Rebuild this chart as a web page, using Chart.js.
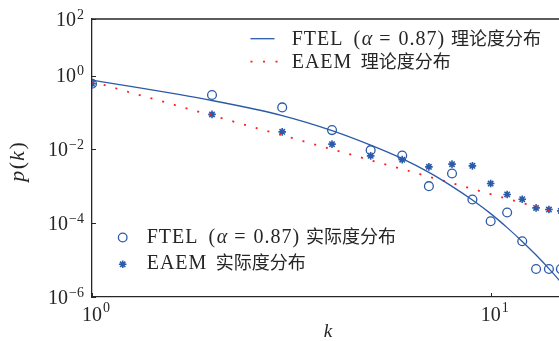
<!DOCTYPE html>
<html>
<head>
<meta charset="utf-8">
<script src="https://cdn.jsdelivr.net/npm/chart.js@4/dist/chart.umd.min.js"></script>
<style>
html,body{margin:0;padding:0;background:#fff;}
#wrap{width:559px;height:341px;position:relative;overflow:hidden;}
</style>
</head>
<body>
<div id="wrap"><canvas id="c" width="559" height="341"></canvas></div>
<script>
// ---------------- data ----------------
const degrees    = [1, 2, 3, 4, 5, 6, 7, 8, 9, 10, 11, 12, 13, 14, 15];
const ftelActual = [0.603, 0.298, 0.138, 0.0334, 0.00957, 0.00687, 0.00101, 0.00223, 4.40e-4, 1.13e-4, 1.95e-4, 3.25e-5, 5.75e-6, 5.75e-6, 5.75e-6];
const eaemActual = [0.603, 0.0891, 0.0300, 0.0139, 0.00670, 0.00529, 0.00337, 0.00399, 0.00359, 0.00119, 6.01e-4, 4.48e-4, 2.60e-4, 2.35e-4, 2.16e-4];
const ftelTheory = [0.760, 0.212, 0.0827, 0.0324, 0.0131, 0.00563, 0.00239, 0.00100, 4.26e-4, 1.82e-4, 7.60e-5, 3.21e-5, 1.37e-5, 5.86e-6, 2.54e-6];
const eaemTheory = [0.69, 0.0832, 0.0242, 0.0101, 0.00510, 0.00292, 0.00183, 0.00122, 8.50e-4, 6.17e-4, 4.61e-4, 3.54e-4, 2.77e-4, 2.21e-4, 1.79e-4];
const xTickValues = [1, 10];
const yTickValues = [1e-6, 1e-4, 1e-2, 1, 1e2];
const xRange = [1, 14.84];
const yRange = [1e-6, 1e2];
const modelNames = ['FTEL', 'EAEM'];
const alphaText = '0.87';
const theoryLabel = '理论度分布';
const actualLabel = '实际度分布';
const xTitle = 'k';
const yTitle = ['p', '(', 'k', ')'];

// ---------------- styles ----------------
const BLUE = '#2b5aa8';
const RED = '#ff1f1f';
const INK = '#262626';
const LATIN = '"Liberation Serif", "DejaVu Serif", serif';
const CJK = '"Noto Sans CJK SC", sans-serif';
const Y_KNOT_LOG = 0;           // decade where the drawn y axis changes density
const Y_KNOT_FRACTION = 0.7962; // share of axis height for the decades below the knot

// log axis whose decades above 10^0 are drawn denser (as in the reference)
class WarpedLogScale extends Chart.LogarithmicScale {
  static id = 'warpedLog';
  _dec(value) {
    const lg = Math.log10(value);
    const lo = Math.log10(this.min), hi = Math.log10(this.max);
    if (lg <= Y_KNOT_LOG) return (lg - lo) / (Y_KNOT_LOG - lo) * Y_KNOT_FRACTION;
    return Y_KNOT_FRACTION + (lg - Y_KNOT_LOG) / (hi - Y_KNOT_LOG) * (1 - Y_KNOT_FRACTION);
  }
  getPixelForValue(value) {
    if (value === undefined || value === 0) value = this.min;
    if (value === null || isNaN(value)) return NaN;
    return this.getPixelForDecimal(this._dec(value));
  }
  getValueForPixel(pixel) {
    const d = this.getDecimalForPixel(pixel);
    const lo = Math.log10(this.min), hi = Math.log10(this.max);
    let lg;
    if (d <= Y_KNOT_FRACTION) lg = lo + d / Y_KNOT_FRACTION * (Y_KNOT_LOG - lo);
    else lg = Y_KNOT_LOG + (d - Y_KNOT_FRACTION) / (1 - Y_KNOT_FRACTION) * (hi - Y_KNOT_LOG);
    return Math.pow(10, lg);
  }
}
Chart.register(WarpedLogScale);

const toXY = (vals) => degrees.map((k, i) => ({x: k, y: vals[i]}));

function expText(v) {
  const e = Math.round(Math.log10(v));
  return e < 0 ? '\u2212' + (-e) : String(e);
}

const HAS_LS = 'letterSpacing' in CanvasRenderingContext2D.prototype;

// draws text pieces one after another, each preceded by a gap
function drawRuns(ctx, runs, x, y) {
  for (const r of runs) {
    ctx.font = r.font;
    if (HAS_LS) ctx.letterSpacing = (r.ls || 0) + 'px';
    x += r.gap;
    ctx.fillText(r.text, x, y);
    x += ctx.measureText(r.text).width;
  }
  if (HAS_LS) ctx.letterSpacing = '0px';
}

function labelRuns(name, cjk, withAlpha) {
  const f = '20px ' + LATIN, fi = 'italic 20px ' + LATIN, fc = '18px ' + CJK;
  if (withAlpha) {
    return [
      {text: name, gap: 0, font: f, ls: 1},
      {text: '(', gap: 10, font: f, ls: 1},
      {text: 'α', gap: 0.5, font: fi, ls: 1},
      {text: '=', gap: 6, font: f, ls: 1},
      {text: alphaText, gap: 7, font: f, ls: 1},
      {text: ')', gap: 0, font: f, ls: 1},
      {text: cjk, gap: 6, font: fc}
    ];
  }
  return [{text: name, gap: 0, font: f, ls: 1}, {text: cjk, gap: 8.5, font: fc}];
}

function drawStar(ctx, x, y, r, lw) {
  ctx.save();
  ctx.strokeStyle = BLUE; ctx.lineWidth = lw;
  ctx.beginPath();
  for (let a = 0; a < 4; a++) {
    const t = a * Math.PI / 4;
    ctx.moveTo(x - r * Math.cos(t), y - r * Math.sin(t));
    ctx.lineTo(x + r * Math.cos(t), y + r * Math.sin(t));
  }
  ctx.stroke();
  ctx.restore();
}

const decor = {
  id: 'decor',
  afterDraw(chart) {
    const ctx = chart.ctx, a = chart.chartArea;
    const xs = chart.scales.x, ys = chart.scales.y;
    ctx.save();
    // top frame line
    ctx.strokeStyle = INK; ctx.lineWidth = 1.3;
    ctx.beginPath(); ctx.moveTo(a.left, a.top); ctx.lineTo(a.right, a.top); ctx.stroke();
    // inward tick marks
    ctx.lineWidth = 1;
    ctx.beginPath();
    for (const v of yTickValues) {
      const py = Math.round(ys.getPixelForValue(v)) + 0.5;
      ctx.moveTo(a.left, py); ctx.lineTo(a.left + 4, py);
    }
    for (const v of xTickValues) {
      const px = Math.round(xs.getPixelForValue(v)) + 0.5;
      ctx.moveTo(px, a.bottom); ctx.lineTo(px, a.bottom - 4);
    }
    ctx.stroke();
    // tick labels 10^n
    ctx.fillStyle = INK;
    ctx.textBaseline = 'alphabetic';
    ctx.textAlign = 'left';
    const fMain = '20px ' + LATIN, fExp = '14px ' + LATIN;
    for (const v of yTickValues) {
      const py = ys.getPixelForValue(v);
      const et = expText(v);
      ctx.font = fExp; const we = ctx.measureText(et).width;
      ctx.font = fMain; const w10 = ctx.measureText('10').width;
      const R = a.left - 8;
      ctx.font = fMain; ctx.fillText('10', R - we - 1 - w10, py + 6.5);
      ctx.font = fExp; ctx.fillText(et, R - we, py - 0.5);
    }
    for (const v of xTickValues) {
      const px = xs.getPixelForValue(v);
      const et = expText(v);
      ctx.font = fMain; const w10 = ctx.measureText('10').width;
      ctx.fillText('10', px - w10 / 2, a.bottom + 23.5);
      ctx.font = fExp; ctx.fillText(et, px + w10 / 2 + 1, a.bottom + 15);
    }
    // axis titles
    ctx.font = 'italic 19px ' + LATIN;
    ctx.textAlign = 'center';
    ctx.fillText(xTitle, (a.left + a.right) / 2 + 2.5, a.bottom + 40);
    ctx.save();
    ctx.translate(24, (a.top + a.bottom) / 2 + 4);
    ctx.rotate(-Math.PI / 2);
    ctx.textAlign = 'left';
    const fonts = ['italic 22px ' + LATIN, '22px ' + LATIN, 'italic 22px ' + LATIN, '22px ' + LATIN];
    const gaps = [0, 1.5, 1, 1.5];
    let tw = 0;
    const ws = yTitle.map((t, i) => { ctx.font = fonts[i]; const w = ctx.measureText(t).width; tw += w + gaps[i]; return w; });
    let cx = -tw / 2;
    yTitle.forEach((t, i) => { cx += gaps[i]; ctx.font = fonts[i]; ctx.fillText(t, cx, 0); cx += ws[i]; });
    ctx.restore();

    // legend: theory lines (top right)
    ctx.textAlign = 'left';
    ctx.fillStyle = INK;
    const lx = 250.5, tx = 291.7;
    ctx.strokeStyle = BLUE; ctx.lineWidth = 1.3;
    ctx.beginPath(); ctx.moveTo(lx, 38.7); ctx.lineTo(lx + 24, 38.7); ctx.stroke();
    ctx.strokeStyle = RED; ctx.lineWidth = 1.8; ctx.setLineDash([2, 10.5]);
    ctx.beginPath(); ctx.moveTo(lx, 61.7); ctx.lineTo(lx + 27, 61.7); ctx.stroke();
    ctx.setLineDash([]);
    drawRuns(ctx, labelRuns(modelNames[0], theoryLabel, true), tx, 45);
    drawRuns(ctx, labelRuns(modelNames[1], theoryLabel, false), tx, 68.3);

    // legend: actual markers (bottom left)
    const mx = 122.7, bx = 146.7;
    ctx.strokeStyle = BLUE; ctx.lineWidth = 1.3;
    ctx.beginPath(); ctx.arc(mx, 237.5, 4.3, 0, Math.PI * 2); ctx.stroke();
    drawStar(ctx, mx, 264.3, 3.8, 1.6);
    drawRuns(ctx, labelRuns(modelNames[0], actualLabel, true), bx, 242.7);
    drawRuns(ctx, labelRuns(modelNames[1], actualLabel, false), bx, 269.3);
    ctx.restore();
  }
};

new Chart(document.getElementById('c'), {
  type: 'scatter',
  data: {
    datasets: [
      {
        label: modelNames[0] + ' ' + theoryLabel,
        data: toXY(ftelTheory),
        showLine: true, pointRadius: 0,
        borderColor: BLUE, borderWidth: 1.3,
        cubicInterpolationMode: 'monotone'
      },
      {
        label: modelNames[1] + ' ' + theoryLabel,
        data: toXY(eaemTheory),
        showLine: true, pointRadius: 0,
        borderColor: RED, borderWidth: 1.8,
        borderDash: [2, 10.15], borderCapStyle: 'butt'
      },
      {
        label: modelNames[0] + ' ' + actualLabel,
        data: toXY(ftelActual),
        pointStyle: 'circle', pointRadius: 4.4,
        borderColor: BLUE, backgroundColor: 'rgba(0,0,0,0)', borderWidth: 1.3
      },
      {
        label: modelNames[1] + ' ' + actualLabel,
        data: toXY(eaemActual),
        pointStyle: 'star', pointRadius: 3.8,
        borderColor: BLUE, backgroundColor: BLUE, borderWidth: 1.6
      }
    ]
  },
  options: {
    responsive: false,
    devicePixelRatio: 1,
    animation: false,
    events: [],
    layout: {autoPadding: false, padding: {left: 92, top: 19, right: 0, bottom: 44}},
    plugins: {legend: {display: false}, tooltip: {enabled: false}},
    scales: {
      x: {
        type: 'logarithmic', min: xRange[0], max: xRange[1],
        afterBuildTicks: (s) => { s.ticks = xTickValues.map(v => ({value: v})); },
        ticks: {display: false},
        grid: {display: false, drawTicks: false},
        border: {display: true, color: INK, width: 1.3}
      },
      y: {
        type: 'warpedLog', min: yRange[0], max: yRange[1],
        afterBuildTicks: (s) => { s.ticks = yTickValues.map(v => ({value: v})); },
        ticks: {display: false},
        grid: {display: false, drawTicks: false},
        border: {display: true, color: INK, width: 1.3}
      }
    }
  },
  plugins: [decor]
});
</script>
</body>
</html>
